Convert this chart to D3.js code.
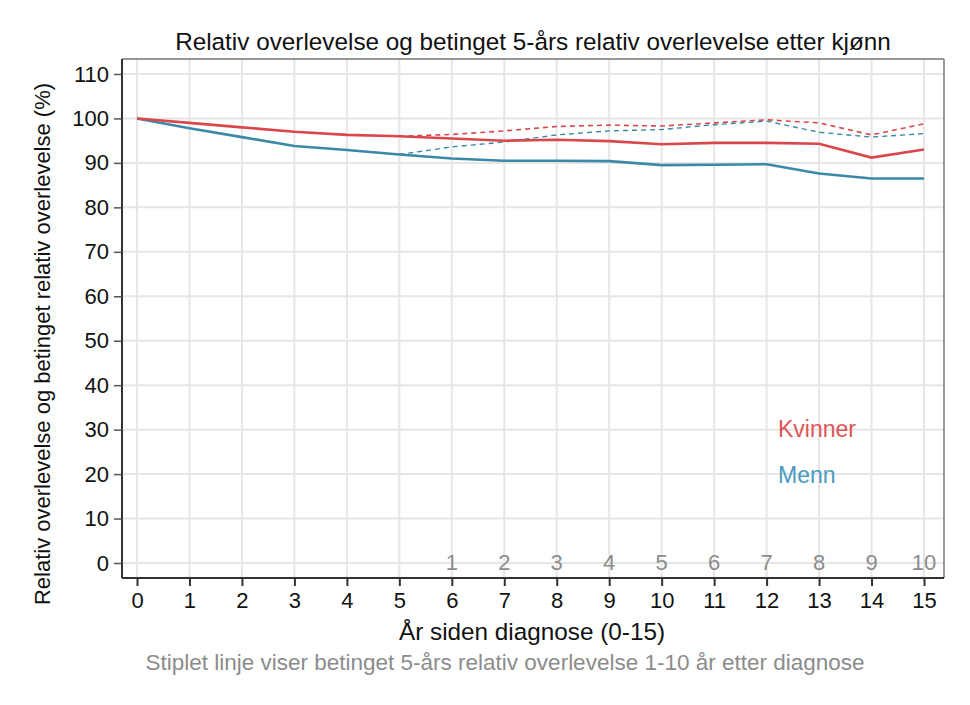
<!DOCTYPE html>
<html>
<head>
	<meta http-equiv="Content-Type" content="text/html;charset=utf-8">
	<title>Relativ overlevelse</title>
	<script src="https://d3js.org/d3.v7.min.js"></script>
	<style type="text/css">
		body { margin: 0; background: #fff; }
		text { font-family: "Liberation Sans", Arial, sans-serif; }
		.grid line { stroke: #e6e6e6; stroke-width: 2px; }
	</style>
</head>
<body>
	<svg width="970" height="705"></svg>

	<script type="text/javascript">
		// data
		var years = d3.range(0, 16);
		var kvinner = [100, 99.0, 98.0, 97.0, 96.3, 96.0, 95.5, 95.0, 95.2, 94.9, 94.2, 94.5, 94.5, 94.3, 91.2, 93.0];
		var menn = [100, 97.8, 95.8, 93.8, 92.9, 91.9, 91.0, 90.5, 90.5, 90.4, 89.5, 89.6, 89.7, 87.6, 86.5, 86.5];
		var condYears = d3.range(5, 16);
		var kvinnerBet = [96.0, 96.4, 97.2, 98.2, 98.5, 98.3, 99.0, 99.7, 99.0, 96.3, 98.8];
		var mennBet = [91.9, 93.6, 94.7, 96.3, 97.2, 97.5, 98.6, 99.4, 96.9, 95.8, 96.6];
		var condLabels = ["1", "2", "3", "4", "5", "6", "7", "8", "9", "10"];
		var yTicks = d3.range(0, 111, 10);

		var red = "#d9474b", blue = "#3a89a8";

		var svg = d3.select("svg");
		var pLeft = 122, pRight = 944, pTop = 59, pBottom = 578;

		var x = d3.scaleLinear().domain([0, 15]).range([137, 924]);
		var y = d3.scaleLinear().domain([0, 110]).range([563, 74]);

		// grid
		var grid = svg.append("g").attr("class", "grid");
		grid.selectAll(".h").data(yTicks).enter().append("line")
			.attr("x1", pLeft).attr("x2", pRight)
			.attr("y1", function (d) { return y(d); })
			.attr("y2", function (d) { return y(d); });
		grid.selectAll(".v").data(years).enter().append("line")
			.attr("y1", pTop).attr("y2", pBottom)
			.attr("x1", function (d) { return x(d); })
			.attr("x2", function (d) { return x(d); });

		// frame
		svg.append("line").attr("x1", pLeft).attr("x2", pRight).attr("y1", pTop).attr("y2", pTop)
			.attr("stroke", "#777").attr("stroke-width", 1.5);
		svg.append("line").attr("x1", pRight).attr("x2", pRight).attr("y1", pTop).attr("y2", pBottom)
			.attr("stroke", "#777").attr("stroke-width", 1.5);

		// axes
		var yAxis = svg.append("g").attr("transform", "translate(" + pLeft + ",0)")
			.call(d3.axisLeft(y).tickValues(yTicks).tickSize(8).tickPadding(5));
		yAxis.select(".domain").attr("d", "M0," + pTop + "V" + pBottom).attr("stroke", "#333").attr("stroke-width", 2);
		yAxis.selectAll(".tick line").attr("stroke", "#555").attr("stroke-width", 1.5);
		yAxis.selectAll(".tick text").attr("font-size", 22).attr("fill", "#111")
			.attr("font-family", "'Liberation Sans', Arial, sans-serif");

		var xAxis = svg.append("g").attr("transform", "translate(0," + pBottom + ")")
			.call(d3.axisBottom(x).tickValues(years).tickSize(8).tickPadding(6));
		xAxis.select(".domain").attr("d", "M" + pLeft + ",0H" + pRight).attr("stroke", "#333").attr("stroke-width", 2);
		xAxis.selectAll(".tick line").attr("stroke", "#333").attr("stroke-width", 2);
		xAxis.selectAll(".tick text").attr("font-size", 22).attr("fill", "#111")
			.attr("font-family", "'Liberation Sans', Arial, sans-serif");

		// conditional year labels
		svg.selectAll(".cond").data(condLabels).enter().append("text")
			.attr("x", function (d, i) { return x(i + 6); })
			.attr("y", y(0) + 7)
			.attr("text-anchor", "middle")
			.attr("font-size", 22).attr("fill", "#8c8c8c")
			.text(function (d) { return d; });

		// lines
		var line = d3.line()
			.x(function (d) { return x(d[0]); })
			.y(function (d) { return y(d[1]); });

		svg.append("path").datum(d3.zip(condYears, kvinnerBet)).attr("d", line)
			.attr("fill", "none").attr("stroke", red).attr("stroke-width", 1.6).attr("stroke-dasharray", "5,4");
		svg.append("path").datum(d3.zip(condYears, mennBet)).attr("d", line)
			.attr("fill", "none").attr("stroke", blue).attr("stroke-width", 1.4).attr("stroke-dasharray", "5,4");
		svg.append("path").datum(d3.zip(years, menn)).attr("d", line)
			.attr("fill", "none").attr("stroke", blue).attr("stroke-width", 2.6);
		svg.append("path").datum(d3.zip(years, kvinner)).attr("d", line)
			.attr("fill", "none").attr("stroke", red).attr("stroke-width", 2.6);

		// labels
		svg.append("text").attr("x", 778).attr("y", 437)
			.attr("font-size", 23).attr("fill", "#e05558").text("Kvinner");
		svg.append("text").attr("x", 778).attr("y", 483)
			.attr("font-size", 23).attr("fill", "#4a9bbf").text("Menn");

		// titles
		svg.append("text").attr("x", 533).attr("y", 50).attr("text-anchor", "middle")
			.attr("font-size", 24.3).attr("fill", "#111")
			.text("Relativ overlevelse og betinget 5-års relativ overlevelse etter kjønn");
		svg.append("text").attr("x", 532).attr("y", 640).attr("text-anchor", "middle")
			.attr("font-size", 24.3).attr("fill", "#111")
			.text("År siden diagnose (0-15)");
		svg.append("text").attr("x", 505).attr("y", 670).attr("text-anchor", "middle")
			.attr("font-size", 22.5).attr("fill", "#8c8c8c")
			.text("Stiplet linje viser betinget 5-års relativ overlevelse 1-10 år etter diagnose");
		svg.append("text").attr("transform", "translate(50,344) rotate(-90)").attr("text-anchor", "middle")
			.attr("font-size", 22).attr("fill", "#111")
			.text("Relativ overlevelse og betinget relativ overlevelse (%)");
	</script>
</body>
</html>
